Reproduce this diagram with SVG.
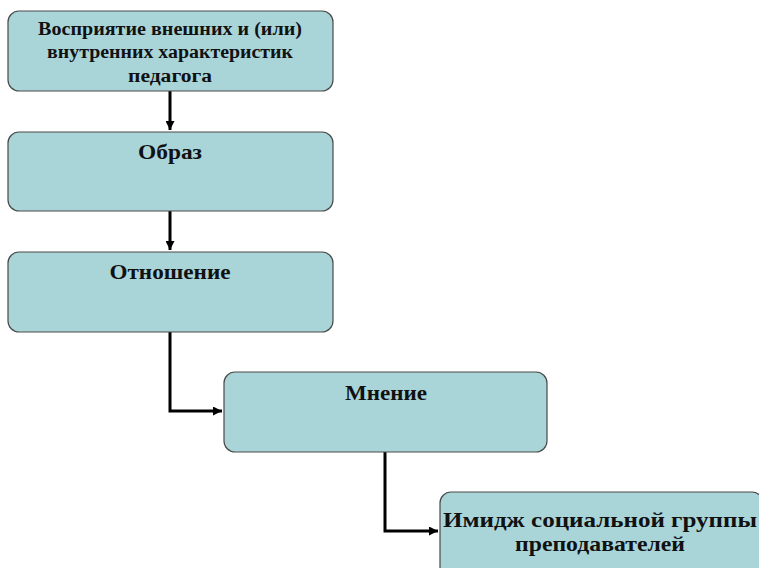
<svg xmlns="http://www.w3.org/2000/svg" width="759" height="568" viewBox="0 0 759 568">
<defs>
<style>
.box{fill:#a9d5d9;stroke:#4a4a4a;stroke-width:1.2}
.t{font-family:"Liberation Serif",serif;font-weight:bold;fill:#111;text-anchor:middle}
.s{font-size:18px}
.l{font-size:22px}
.c{fill:none;stroke:#000;stroke-width:3}
</style>
<marker id="ah" viewBox="0 0 10 10" refX="10" refY="5" markerWidth="3" markerHeight="3" orient="auto" markerUnits="strokeWidth">
<path d="M0,0 L10,5 L0,10 z" fill="#000"/>
</marker>
</defs>
<rect width="759" height="568" fill="#fff"/>
<g id="connectors">
<path class="c" d="M170,91 V130" marker-end="url(#ah)"/>
<path class="c" d="M170,211 V250" marker-end="url(#ah)"/>
<path class="c" d="M170,332 V411 H222" marker-end="url(#ah)"/>
<path class="c" d="M385,452 V531 H438" marker-end="url(#ah)"/>
</g>
<g id="n1">
<rect class="box" x="8" y="11" width="325" height="80" rx="11"/>
<text class="t s" x="170" y="35" textLength="264" lengthAdjust="spacingAndGlyphs">Восприятие внешних и (или)</text>
<text class="t s" x="170" y="58" textLength="246" lengthAdjust="spacingAndGlyphs">внутренних характеристик</text>
<text class="t s" x="170" y="82" textLength="84" lengthAdjust="spacingAndGlyphs">педагога</text>
</g>
<g id="n2">
<rect class="box" x="8" y="132" width="325" height="79" rx="11"/>
<text class="t l" x="170" y="159" textLength="64" lengthAdjust="spacingAndGlyphs">Образ</text>
</g>
<g id="n3">
<rect class="box" x="8" y="252" width="325" height="80" rx="11"/>
<text class="t l" x="170" y="279" textLength="121" lengthAdjust="spacingAndGlyphs">Отношение</text>
</g>
<g id="n4">
<rect class="box" x="224" y="372" width="323" height="80" rx="11"/>
<text class="t l" x="386" y="400" textLength="82" lengthAdjust="spacingAndGlyphs">Мнение</text>
</g>
<g id="n5">
<rect class="box" x="440" y="492" width="323" height="90" rx="11"/>
<text class="t l" x="600" y="527" textLength="314" lengthAdjust="spacingAndGlyphs">Имидж социальной группы</text>
<text class="t l" x="600" y="551" textLength="170" lengthAdjust="spacingAndGlyphs">преподавателей</text>
</g>
</svg>
